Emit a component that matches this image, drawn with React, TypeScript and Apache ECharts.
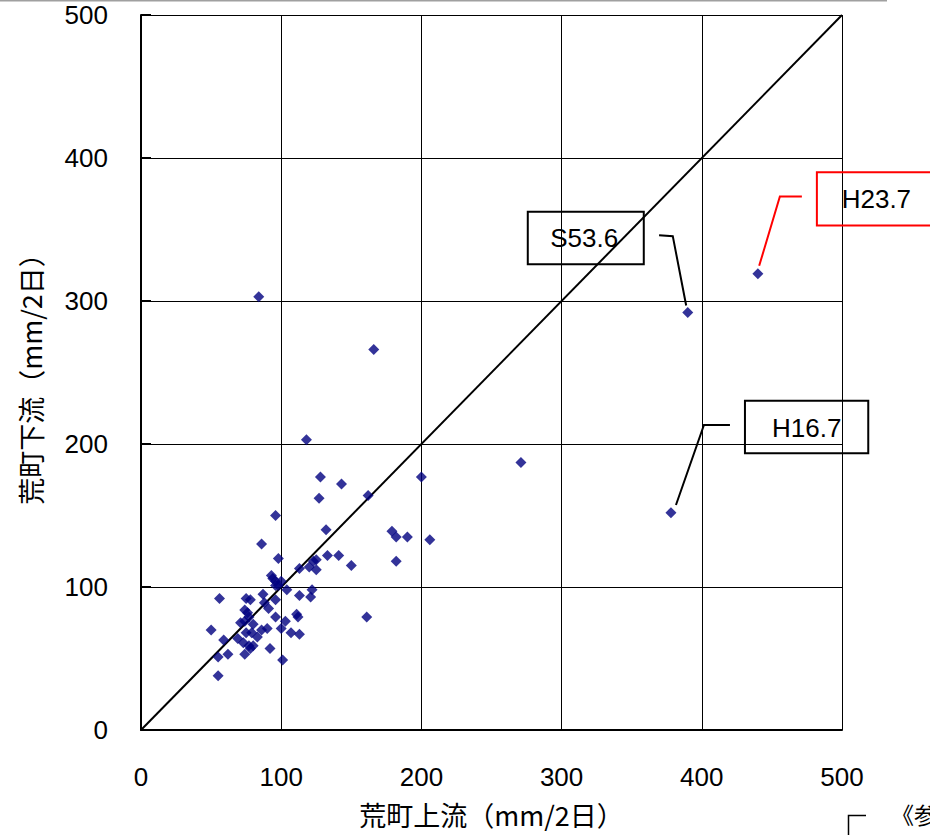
import React, { useEffect, useRef } from "react";
import * as echarts from "echarts";

// 2-day rainfall (mm) per storm event: upstream gauge (x) vs downstream gauge (y)
const upstreamRain = [
  118, 128, 143, 162, 200, 127, 96, 132, 179, 182, 190, 206, 86, 98, 133, 141,
  150, 182, 113, 120, 123, 125, 125, 93, 94, 96, 100, 96, 98, 104, 113, 122,
  121, 87, 56, 75, 78, 88, 96, 91, 74, 76, 77, 71, 74, 80, 96, 103, 111, 112,
  50, 59, 69, 75, 79, 83, 86, 90, 100, 107, 113, 73, 77, 80, 78, 92, 62, 74,
  55, 101, 55, 161, 84, 166, 271, 440, 390, 378,
];
const downstreamRain = [
  203, 177, 172, 164, 177, 162, 150, 140, 139, 135, 135, 133, 130, 120, 122, 122,
  115, 118, 113, 114, 118, 119, 112, 108, 106, 104, 104, 101, 101, 98, 94, 98,
  93, 95, 92, 92, 91, 89, 91, 85, 84, 82, 79, 75, 76, 74, 79, 76, 81, 79,
  70, 63, 64, 68, 68, 65, 70, 71, 71, 68, 67, 61, 59, 59, 57, 57, 53, 53,
  51, 49, 38, 79, 303, 266, 187, 319, 292, 152,
];

// 1:1 reference line
const equalLine = [0, 500];

// Labelled storm events
const eventNames = ["S53.6", "H23.7", "H16.7"];
const eventUpstream = [390, 440, 378];
const eventDownstream = [292, 319, 152];

const tickLabelFont = { fontFamily: "Liberation Sans, Arial, sans-serif", fontSize: 26, color: "#000" };
const cjkFont = "'Noto Sans CJK JP', sans-serif";

export default function App() {
  const ref = useRef<HTMLDivElement>(null);

  useEffect(() => {
    if (!ref.current) return;
    const chart = echarts.init(ref.current, undefined, { renderer: "svg" });

    const points = upstreamRain.map((x, i) => [x, downstreamRain[i]]);

    chart.setOption({
      animation: false,
      backgroundColor: "#fff",
      grid: { left: 141, right: 88, top: 15, bottom: 105 },
      xAxis: {
        type: "value",
        min: 0,
        max: 500,
        interval: 100,
        name: "荒町上流（mm/2日）",
        nameLocation: "middle",
        nameGap: 71,
        nameTextStyle: { fontFamily: cjkFont, fontSize: 27, color: "#000" },
        axisLine: { lineStyle: { color: "#000", width: 2 } },
        axisTick: { show: false },
        axisLabel: { ...tickLabelFont, margin: 34 },
        splitLine: { lineStyle: { color: "#000", width: 1 } },
      },
      yAxis: {
        type: "value",
        min: 0,
        max: 500,
        interval: 100,
        name: "荒町下流（mm/2日）",
        nameLocation: "middle",
        nameRotate: 90,
        nameGap: 97,
        nameTextStyle: { fontFamily: cjkFont, fontSize: 27, color: "#000" },
        axisLine: { lineStyle: { color: "#000", width: 2 } },
        axisTick: { show: true, inside: true, length: 10, lineStyle: { color: "#000", width: 2 } },
        axisLabel: { ...tickLabelFont, margin: 33 },
        splitLine: { lineStyle: { color: "#000", width: 1 } },
      },
      series: [
        {
          type: "line",
          data: equalLine.map((v) => [v, v]),
          symbol: "none",
          lineStyle: { color: "#000", width: 2 },
          z: 2,
        },
        {
          type: "scatter",
          data: points,
          symbol: "diamond",
          symbolSize: 11,
          itemStyle: { color: "#000080" },
          z: 3,
        },
      ],
    });

    // Callout boxes with leader lines, placed relative to each event's point
    const px = eventNames.map((_, i) =>
      chart.convertToPixel({ gridIndex: 0 }, [eventUpstream[i], eventDownstream[i]]) as number[]
    );
    const calloutText = (text: string, x: number, y: number) => ({
      type: "text",
      x,
      y,
      style: {
        text,
        fontFamily: "Liberation Sans, Arial, sans-serif",
        fontSize: 26,
        fill: "#000",
        align: "center",
        verticalAlign: "middle",
      },
      z: 10,
    });
    const graphics: any[] = [];
    {
      const [x, y] = px[0];
      graphics.push(
        { type: "rect", shape: { x: x - 160, y: y - 100.6, width: 116, height: 52.3 }, style: { fill: "none", stroke: "#000", lineWidth: 2 }, z: 10 },
        calloutText(eventNames[0], x - 103.6, y - 74),
        { type: "polyline", shape: { points: [[x - 28.7, y - 77.3], [x - 15, y - 76.3], [x - 1.6, y - 7]] }, style: { fill: "none", stroke: "#000", lineWidth: 2 }, z: 10 }
      );
    }
    {
      const [x, y] = px[1];
      graphics.push(
        { type: "rect", shape: { x: x + 59, y: y - 101.6, width: 140, height: 53.3 }, style: { fill: "none", stroke: "#ff0000", lineWidth: 2 }, z: 10 },
        calloutText(eventNames[1], x + 118.5, y - 75),
        { type: "polyline", shape: { points: [[x + 44, y - 77.3], [x + 22, y - 77.3], [x + 1.3, y - 8]] }, style: { fill: "none", stroke: "#ff0000", lineWidth: 2 }, z: 10 }
      );
    }
    {
      const [x, y] = px[2];
      graphics.push(
        { type: "rect", shape: { x: x + 74, y: y - 111.9, width: 123.3, height: 52.6 }, style: { fill: "none", stroke: "#000", lineWidth: 2 }, z: 10 },
        calloutText(eventNames[2], x + 135.7, y - 84.5),
        { type: "polyline", shape: { points: [[x + 59, y - 87.6], [x + 33, y - 87.6], [x + 5, y - 7.6]] }, style: { fill: "none", stroke: "#000", lineWidth: 2 }, z: 10 }
      );
    }
    // Page furniture: rule along the top and the corner of the reference note frame
    graphics.push(
      { type: "line", shape: { x1: 0, y1: 0.75, x2: 887, y2: 0.75 }, style: { stroke: "#a0a0a0", lineWidth: 1.5 } },
      { type: "polyline", shape: { points: [[866, 815.5], [848.5, 815.5], [848.5, 840]] }, style: { fill: "none", stroke: "#000", lineWidth: 1.5 } },
      { type: "text", x: 891, y: 814, style: { text: "《参考》", fontFamily: cjkFont, fontSize: 23, fill: "#000", verticalAlign: "middle" } }
    );
    chart.setOption({ graphic: graphics });

    return () => chart.dispose();
  }, []);

  return (
    <div
      ref={ref}
      style={{ position: "fixed", left: 0, top: 0, width: 930, height: 835 }}
    />
  );
}
